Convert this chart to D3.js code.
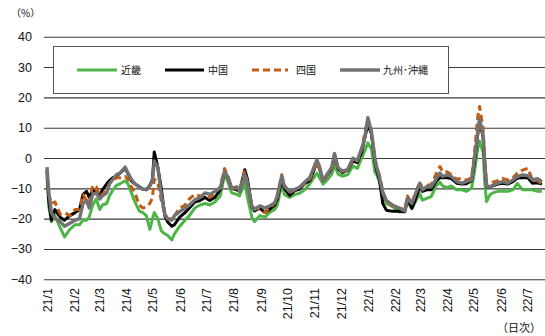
<!DOCTYPE html>
<html>
<head>
<meta charset="utf-8">
<script src="https://cdn.jsdelivr.net/npm/d3@7"></script>
<style>
  html, body { margin: 0; padding: 0; background: #fff; }
  svg { display: block; }
  .num { font-family: "Liberation Sans", "DejaVu Sans", sans-serif; }
  .jp { font-family: "Noto Sans CJK JP", sans-serif; }
</style>
</head>
<body>
<svg id="chart" width="545" height="336"></svg>
<script>
// Daily rate of change (%), sampled dates
const dates = [
  "2021-01-01","2021-01-03","2021-01-06","2021-01-10","2021-01-16","2021-01-21","2021-01-27",
  "2021-02-02","2021-02-07","2021-02-11","2021-02-15","2021-02-18","2021-02-22",
  "2021-02-26","2021-03-02","2021-03-05","2021-03-10","2021-03-13","2021-03-17","2021-03-21","2021-03-25",
  "2021-03-31","2021-04-03","2021-04-07","2021-04-11","2021-04-16","2021-04-20",
  "2021-04-24","2021-04-28","2021-05-01","2021-05-03","2021-05-07","2021-05-11","2021-05-15","2021-05-18","2021-05-23",
  "2021-05-26","2021-06-01","2021-06-07","2021-06-12","2021-06-18",
  "2021-06-24","2021-06-30","2021-07-05","2021-07-11","2021-07-17",
  "2021-07-22","2021-07-26","2021-07-30","2021-08-05","2021-08-08","2021-08-14","2021-08-17",
  "2021-08-22","2021-08-25","2021-08-31","2021-09-06","2021-09-11","2021-09-17",
  "2021-09-20","2021-09-25","2021-09-28","2021-10-04","2021-10-10","2021-10-15",
  "2021-10-21","2021-10-27","2021-11-04","2021-11-07","2021-11-11","2021-11-15",
  "2021-11-21","2021-11-24","2021-11-28","2021-12-03","2021-12-09","2021-12-15",
  "2021-12-20","2021-12-25","2021-12-28","2022-01-01","2022-01-05","2022-01-09","2022-01-11","2022-01-14",
  "2022-01-18","2022-01-22","2022-01-29","2022-02-06",
  "2022-02-12","2022-02-15","2022-02-20","2022-02-23","2022-03-01","2022-03-04","2022-03-09",
  "2022-03-14","2022-03-20","2022-03-24","2022-03-27","2022-04-01","2022-04-06",
  "2022-04-12","2022-04-18","2022-04-23","2022-04-29","2022-05-02","2022-05-06","2022-05-08",
  "2022-05-12","2022-05-14","2022-05-16","2022-05-20","2022-05-23","2022-05-29","2022-06-03",
  "2022-06-09","2022-06-15","2022-06-20","2022-06-26","2022-07-02","2022-07-07",
  "2022-07-13","2022-07-18"
];

const kinki = [
  -6,-16,-21,-19,-23,-26,-23.5,
  -22,-22,-20.5,-20.5,-19.5,-15.5,
  -13.5,-17,-15.5,-15,-12.5,-10.5,-9,-8.5,
  -7.5,-8.5,-11.5,-14.5,-17.5,-18,
  -19,-23.5,-20,-18,-20,-24,-25,-25.5,-27,
  -25,-22.5,-20.5,-19,-16.5,
  -15.5,-15,-15.5,-14.5,-12.5,
  -5.5,-8,-11.5,-12,-12.5,-8,-13,
  -19.5,-21,-19,-19.5,-18,-17,
  -15.5,-8.7,-12,-13,-12,-11.7,
  -10.5,-8.5,-5,-6.5,-8.6,-7.5,
  -5.3,-2.2,-5.3,-6,-5.5,-2.7,
  -3.4,0,2,5,3,-4.6,-5.5,-7.7,
  -12,-15,-16,-17.8,
  -17.7,-14.5,-16.6,-15,-11.7,-13.9,-13.3,
  -12.7,-9,-8,-9.2,-9.8,-9.2,
  -10.5,-10.5,-11,-9.9,-5,3,5.5,
  2,-8,-14.4,-12.1,-11.5,-11,-11,
  -11,-10.5,-8.4,-10.5,-10.5,-10.5,
  -11,-11
];

const chugoku = [
  -4,-14,-20.5,-17,-19.5,-20.5,-19,
  -18,-17,-12,-11,-13,-10.5,
  -11.5,-12.5,-10.5,-8.5,-7.5,-6.5,-6,-5,
  -3.5,-5,-7.5,-8.5,-9.5,-10.3,
  -10.5,-9,-7,2,-3,-10,-19,-21,-22.5,
  -22,-19.5,-18,-16.5,-14.5,
  -14,-13,-14,-13,-10.5,
  -4.5,-6.5,-10,-10.5,-11,-3.9,-7,
  -16,-17.5,-16.5,-18,-17,-15.5,
  -13.5,-7.5,-10,-12.3,-10.7,-10.3,
  -8.5,-7.5,-1.5,-3.5,-7.5,-6,
  -3.5,1,-3.5,-4.8,-4,-1,
  -1.5,2,6,11,8,-1,-4,-7,
  -15,-17.2,-17.6,-17.5,
  -17.7,-13.3,-16.6,-14.5,-9.5,-11,-10.5,
  -10.5,-7.5,-6.5,-6.5,-6.5,-6.8,
  -8.3,-8.6,-8.5,-7.5,-2,8,12,
  7,-2,-9.6,-9.5,-9.2,-8.6,-8.3,
  -8.6,-7.8,-6.6,-6.5,-6.5,-8.3,
  -8.2,-8.6
];

const shikoku = [
  -4.5,-12,-15,-14.5,-18.5,-18,-19,
  -17,-17,-12,-14,-15,-9,
  -9.5,-12.5,-12,-10.5,-8.5,-7.5,-6.5,-6.5,
  -6,-7,-9.5,-11.5,-15.5,-16.5,
  -16,-15,-13,-7,-8,-14,-18.5,-20,-20,
  -19,-16.5,-15.5,-13.5,-12,
  -12.5,-12.5,-13,-11.5,-9.5,
  -3.5,-6,-10,-10,-10.5,-4.5,-8,
  -16,-16.5,-17,-18,-16.5,-15,
  -12.5,-5.5,-9,-11.5,-10.5,-9.7,
  -8.5,-7,-1.5,-3.5,-8,-6,
  -3.5,1,-3.5,-4.5,-4,-0.5,
  -1,3,7.5,13,8.5,-0.5,-3,-5.5,
  -11,-14,-16,-16.5,
  -17,-12.5,-15,-12.5,-8,-10,-9,
  -8.8,-5,-2.8,-4.5,-4.5,-5.5,
  -7,-6.7,-7.3,-6.5,1,13.6,17,
  10,-1,-9,-8.5,-8,-7.5,-6.7,
  -7.2,-6.5,-5,-4,-3.4,-7,
  -7.5,-8.5
];

const kyushu = [
  -3,-11,-18,-20,-21,-22.5,-21.5,
  -20.5,-20,-15,-14,-16.5,-12,
  -11.5,-13.5,-12.5,-11.5,-8.5,-7,-5.5,-5,
  -3,-5,-7,-8.5,-9.7,-10.3,
  -10.3,-9.2,-7.5,-1,-3,-12,-18.5,-20,-20.5,
  -19,-17.7,-16.5,-15.5,-13.8,
  -13,-11.5,-12,-11,-10,
  -4.5,-6.5,-10,-9.5,-11,-5.6,-8.5,
  -15.8,-17,-15.8,-16.5,-15.8,-14.8,
  -12.5,-6,-9.3,-11.2,-10.3,-9.7,
  -8,-6.4,-0.6,-2.8,-7.5,-5.7,
  -3,1.5,-3.2,-4.3,-3.8,-0.1,
  -0.8,3.2,6,13.3,8.8,0,-3,-6,
  -11.6,-14,-15.5,-16.6,
  -17.5,-13.3,-15,-12.7,-8.3,-10.5,-9.4,
  -9.5,-6.7,-5,-6.1,-5.6,-6.1,
  -7.8,-8.3,-7.8,-7.2,-0.6,8.2,13,
  7.6,-1.6,-9.4,-9.5,-9,-8.3,-7.8,
  -8.3,-7.2,-6.1,-5.6,-5.8,-7.2,
  -6.8,-7.8
];

const seriesNames = ["近畿", "中国", "四国", "九州･沖縄"];
const yTicks = [-40, -30, -20, -10, 0, 10, 20, 30, 40];
const monthTicks = [
  "2021-01-01","2021-02-01","2021-03-01","2021-04-01","2021-05-01","2021-06-01",
  "2021-07-01","2021-08-01","2021-09-01","2021-10-01","2021-11-01","2021-12-01",
  "2022-01-01","2022-02-01","2022-03-01","2022-04-01","2022-05-01","2022-06-01","2022-07-01"
];

const parse = d3.timeParse("%Y-%m-%d");
const svg = d3.select("#chart");

const x = d3.scaleTime()
  .domain([parse("2021-01-01"), parse("2022-07-01")])
  .range([47, 527]);
const y = d3.scaleLinear().domain([-40, 40]).range([279.3, 36.7]);

// Horizontal gridlines + y labels
const yAxis = svg.append("g")
  .attr("transform", "translate(44,0)")
  .call(d3.axisLeft(y).tickValues(yTicks).tickSize(-(545 - 44)).tickPadding(12).tickFormat(d3.format("d")));
yAxis.select(".domain").remove();
yAxis.selectAll(".tick line").attr("stroke", "#3a3a3a").attr("stroke-width", 1.1);
yAxis.selectAll(".tick text")
  .attr("class", "num")
  .attr("font-size", 12.5)
  .attr("fill", "#111");

// Month labels (rotated)
const xAxis = svg.append("g")
  .attr("transform", "translate(0,284)")
  .call(d3.axisBottom(x).tickValues(monthTicks.map(parse)).tickSize(0).tickFormat(d3.timeFormat("%y/%-m")));
xAxis.select(".domain").remove();
xAxis.selectAll(".tick text")
  .attr("class", "num")
  .attr("font-size", 12.5)
  .attr("fill", "#111")
  .attr("text-anchor", "end")
  .attr("dy", "0.35em")
  .attr("transform", "translate(0,4) rotate(-90)")
  .attr("x", 0)
  .attr("y", 0);

// Unit labels
svg.append("text").attr("class", "jp").attr("x", 11).attr("y", 17)
  .attr("font-size", 10).attr("fill", "#111").text("（%）");
svg.append("text").attr("class", "jp").attr("x", 497).attr("y", 332)
  .attr("font-size", 11).attr("fill", "#111").text("（日次）");

// Lines
const rows = dates.map((d, i) => ({
  date: parse(d), values: [kinki[i], chugoku[i], shikoku[i], kyushu[i]]
}));
const styles = [
  { color: "#4db546", width: 3, dash: null },
  { color: "#000000", width: 3, dash: null },
  { color: "#c55a11", width: 3, dash: "7,4" },
  { color: "#727272", width: 3.4, dash: null }
];

styles.forEach((s, k) => {
  const line = d3.line()
    .x(r => x(r.date))
    .y(r => y(r.values[k]));
  svg.append("path")
    .datum(rows)
    .attr("fill", "none")
    .attr("stroke", s.color)
    .attr("stroke-width", s.width)
    .attr("stroke-linejoin", "round")
    .attr("stroke-dasharray", s.dash)
    .attr("d", line);
});

// Legend
const lg = svg.append("g");
lg.append("rect").attr("x", 53.5).attr("y", 46.5).attr("width", 395).attr("height", 47)
  .attr("fill", "#fff").attr("stroke", "#555").attr("stroke-width", 1);
const legendPos = [
  { x1: 77, x2: 117, tx: 121 },
  { x1: 165, x2: 204, tx: 208 },
  { x1: 252, x2: 288, tx: 296 },
  { x1: 340, x2: 380, tx: 383 }
];
legendPos.forEach((p, k) => {
  const s = styles[k];
  lg.append("line").attr("x1", p.x1).attr("x2", p.x2).attr("y1", 70).attr("y2", 70)
    .attr("stroke", s.color).attr("stroke-width", s.width).attr("stroke-dasharray", s.dash);
  lg.append("text").attr("class", "jp").attr("x", p.tx).attr("y", 70).attr("dy", "0.35em")
    .attr("font-size", 10).attr("fill", "#111").text(seriesNames[k]);
});
</script>
</body>
</html>
